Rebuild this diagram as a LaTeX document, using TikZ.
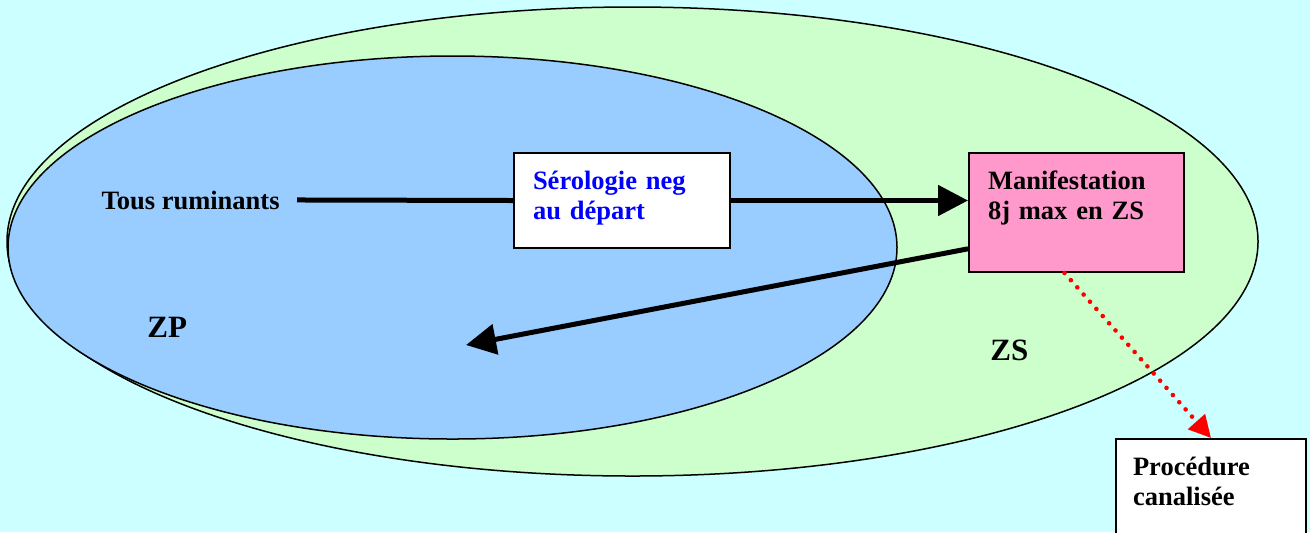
\documentclass[tikz,border=0pt]{standalone}
\usepackage{fontspec}
\setmainfont{Liberation Serif}
\usetikzlibrary{arrows.meta, calc}
\definecolor{fond}{RGB}{204,255,255}
\definecolor{zsvert}{RGB}{204,255,204}
\definecolor{zpbleu}{RGB}{153,204,255}
\definecolor{rose}{RGB}{255,153,204}
\definecolor{serobleu}{RGB}{0,0,255}

\begin{document}
\begin{tikzpicture}[x=0.5pt, y=-0.5pt, >={Triangle[length=15pt, width=15pt]},
		font=\bfseries\fontsize{13.25}{15.2}\selectfont,
		boite/.style={draw, line width=1pt, anchor=north west, align=left, inner xsep=9.5pt, inner ysep=9pt, text height=9pt},
		etiquette/.style={inner sep=0pt, anchor=base west},
		zone/.style={etiquette, font=\bfseries\fontsize{15.5}{18}\selectfont},
		fleche/.style={line width=2.5pt}]
				%Hintergrund
				\fill[fond] (0,0) rectangle (1310,532);
				\useasboundingbox (0,0) rectangle (1310,532);
				% Zonen zeichnen
				\draw[fill=zsvert, line width=0.75pt] (632.5,241.5) ellipse [x radius=625.5, y radius=234.5];
				\draw[fill=zpbleu, line width=0.75pt] (452.5,247.5) ellipse [x radius=444.5, y radius=191.5];
				\node[zone] (zp) at (147,337) {ZP};
				\node[zone] (zs) at (990,360) {ZS};
				% Kaesten
				\node[etiquette, anchor=base east, inner xsep=8.5pt] (tous) at (297,209) {Tous ruminants};
				\node[boite, fill=white, text=serobleu, text width=89pt, text depth=20.5pt] (sero) at (513,152) {Sérologie neg\\au départ};
				\node[boite, fill=rose, text width=88.5pt, text depth=32.5pt] (manif) at (968,152) {Manifestation\\8j max en ZS};
				\node[boite, fill=white, inner xsep=8.5pt, text width=78pt, text depth=60pt] (proc) at (1115,438) {Procédure\\canalisée};
				\coordinate (cible) at (466,345);
				% Pfeile
				\draw[fleche] (tous.east) -- (sero.west);
				\draw[fleche, ->] (sero.east) -- (sero.east -| manif.west);
				\draw[fleche, ->] ($(manif.south west)!0.2!(manif.north west)$) -- (cible);
				\draw[red, line width=2.3pt, line cap=round, dash pattern=on 0pt off 4.8pt, -{Triangle[length=11pt, width=11pt]}] ($(manif.south)+(-12,0)$) -- (proc.north);
		\end{tikzpicture}
\end{document}
